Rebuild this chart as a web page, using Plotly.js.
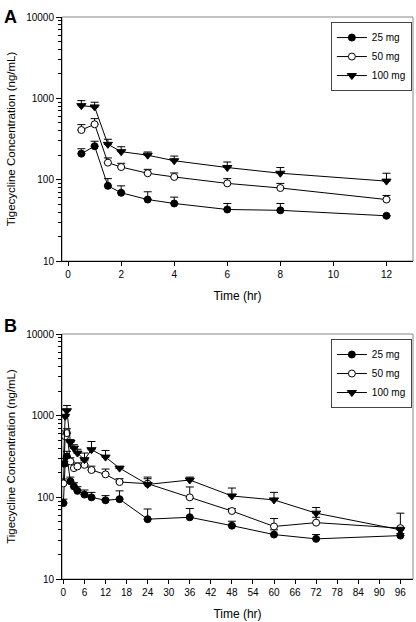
<!DOCTYPE html>
<html><head><meta charset="utf-8">
<script src="https://cdn.plot.ly/plotly-3.0.1.min.js"></script>
<style>html,body{margin:0;padding:0;background:#fff}#chart{width:416px;height:622px}</style>
</head><body><div id="chart"></div>
<script>
// Panel A (single dose, 0-12 h)
const timeA = [0.5, 1, 1.5, 2, 3, 4, 6, 8, 12];
const a25 = [209, 258, 84, 69, 57, 51, 43, 42, 36];
const a25err = [31, 39, 19, 15, 14, 10, 8, 9, 0];
const a50 = [408, 480, 162, 143, 120, 108, 90, 79, 57];
const a50err = [67, 83, 23, 16, 14, 13, 13, 11, 7];
const a100 = [813, 784, 272, 221, 200, 171, 141, 120, 96];
const a100err = [124, 112, 42, 33, 19, 24, 24, 21, 24];

// Panel B (multiple dose, 0-96 h)
const timeB = [0, 0.5, 1, 2, 3, 4, 6, 8, 12, 16, 24, 36, 48, 60, 72, 96];
const b25 = [85, 260, 316, 157, 136, 120, 108, 100, 92, 95, 54, 57, 45, 35, 31, 34];
const b25err = [10, 40, 50, 20, 15, 15, 15, 15, 13, 25, 18, 16, 6, 5, 4, 2];
const b50 = [148, 560, 612, 275, 228, 239, 250, 216, 191, 154, 147, 100, 68, 44, 49, 42];
const b50err = [20, 90, 80, 30, 25, 25, 30, 25, 31, 15, 22, 34, 5, 11, 8, 22];
const b100 = [260, 980, 1150, 470, 400, 348, 289, 383, 311, 228, 144, 163, 104, 93, 64, 40];
const b100err = [40, 200, 183, 40, 40, 40, 60, 100, 64, 0, 33, 14, 26, 22, 11, 3];

const seriesNames = ['25 mg', '50 mg', '100 mg'];
const symbols = ['circle', 'circle-open', 'triangle-down'];
const yTickVals = [10, 100, 1000, 10000];
const yMinor = [];
[10, 100, 1000].forEach(d => { for (let k = 2; k <= 9; k++) yMinor.push(d * k); });

function mk(x, y, err, i, xa, ya, leg) {
  return {
    x: x, y: y, type: 'scatter', mode: 'lines+markers', name: seriesNames[i],
    xaxis: xa, yaxis: ya, legend: leg,
    line: {color: '#000', width: 1},
    marker: {symbol: i === 1 ? 'circle' : symbols[i], size: i === 2 ? 8 : 7,
             color: i === 1 ? '#fff' : '#000', line: {color: '#000', width: 1}},
    error_y: {type: 'data', symmetric: false, array: err, arrayminus: err.map(() => 0),
              color: '#000', thickness: 1, width: 4}
  };
}

const data = [
  mk(timeA, a25, a25err, 0, 'x', 'y', 'legend'),
  mk(timeA, a50, a50err, 1, 'x', 'y', 'legend'),
  mk(timeA, a100, a100err, 2, 'x', 'y', 'legend'),
  mk(timeB, b25, b25err, 0, 'x2', 'y2', 'legend2'),
  mk(timeB, b50, b50err, 1, 'x2', 'y2', 'legend2'),
  mk(timeB, b100, b100err, 2, 'x2', 'y2', 'legend2')
];

const fontBase = {family: 'Liberation Sans, Arial, sans-serif', color: '#000'};
function yax(dom) {
  return {
    type: 'log', range: [1, 4], domain: dom, showgrid: false, zeroline: false,
    showline: true, linecolor: '#000', linewidth: 1,
    ticks: 'outside', ticklen: 5, tickcolor: '#000', tickmode: 'array', tickvals: yTickVals,
    ticktext: yTickVals.map(String), tickfont: Object.assign({size: 10}, fontBase),
    minor: {ticks: 'outside', ticklen: 3, tickcolor: '#000', tickmode: 'array', tickvals: yMinor},
    title: {text: 'Tigecycline Concentration (ng/mL)', font: Object.assign({size: 11.5}, fontBase), standoff: 8}
  };
}
function xax(range, dtick, anchor) {
  return {
    range: range, anchor: anchor, domain: [0, 1], showgrid: false, zeroline: false,
    showline: true, linecolor: '#000', linewidth: 1,
    ticks: 'outside', ticklen: 4, tickcolor: '#000', tick0: 0, dtick: dtick,
    tickfont: Object.assign({size: 10}, fontBase),
    title: {text: 'Time (hr)', font: Object.assign({size: 12}, fontBase), standoff: 12}
  };
}

const legendBase = {
  bordercolor: '#444', borderwidth: 1, bgcolor: '#fff',
  font: Object.assign({size: 10}, fontBase), xanchor: 'left', yanchor: 'top',
  tracegroupgap: 0, itemwidth: 30
};

const layout = {
  width: 416, height: 622,
  margin: {l: 62, r: 3, t: 17, b: 43},
  paper_bgcolor: '#fff', plot_bgcolor: '#fff',
  showlegend: true,
  xaxis: xax([-0.23, 13], 2, 'y'),
  yaxis: yax([0.5658, 1]),
  xaxis2: xax([-0.4, 99.6], 6, 'y2'),
  yaxis2: Object.assign(yax([0, 0.4359]), {anchor: 'x2'}),
  legend: Object.assign({x: 0.766, y: 0.991}, legendBase),
  legend2: Object.assign({x: 0.766, y: 0.427}, legendBase),
  shapes: [
    {type: 'rect', xref: 'x domain', yref: 'y domain', x0: 0, x1: 1, y0: 0, y1: 1,
     line: {color: '#888', width: 1}, layer: 'below'},
    {type: 'rect', xref: 'x2 domain', yref: 'y2 domain', x0: 0, x1: 1, y0: 0, y1: 1,
     line: {color: '#888', width: 1}, layer: 'below'}
  ],
  annotations: [
    {text: '<b>A</b>', xref: 'paper', yref: 'paper', x: -0.17, y: 1.0, xanchor: 'left', yanchor: 'middle',
     showarrow: false, font: Object.assign({size: 18}, fontBase)},
    {text: '<b>B</b>', xref: 'paper', yref: 'paper', x: -0.17, y: 0.4495, xanchor: 'left', yanchor: 'middle',
     showarrow: false, font: Object.assign({size: 18}, fontBase)}
  ]
};

Plotly.newPlot('chart', data, layout, {displayModeBar: false, staticPlot: true});
</script></body></html>
